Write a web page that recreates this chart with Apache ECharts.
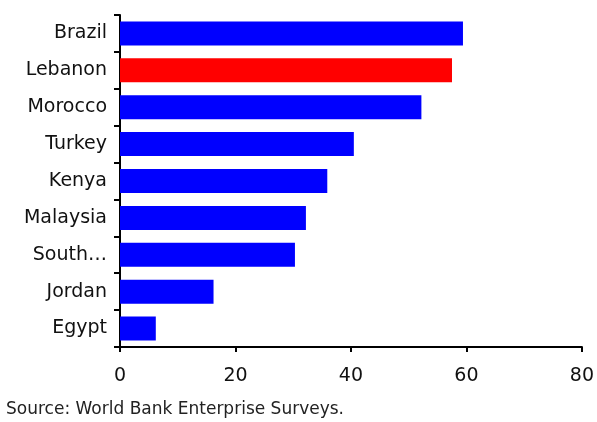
<!DOCTYPE html>
<html>
<head>
<meta charset="utf-8">
<script src="https://cdn.jsdelivr.net/npm/echarts@6/dist/echarts.min.js"></script>
<style>
  html, body { margin: 0; padding: 0; background: #fff; }
  #chart { width: 597px; height: 422px; }
</style>
</head>
<body>
<div id="chart"></div>
<script>
// Countries, listed top to bottom
const categories = ['Brazil', 'Lebanon', 'Morocco', 'Turkey', 'Kenya', 'Malaysia', 'South Africa', 'Jordan', 'Egypt'];
const values = [59.4, 57.5, 52.2, 40.5, 35.9, 32.2, 30.3, 16.2, 6.2];
const highlighted = 'Lebanon';
const xTicks = { min: 0, max: 80, interval: 20 };
const sourceNote = 'Source: World Bank Enterprise Surveys.';

const FONT = '"DejaVu Sans", sans-serif';

const chart = echarts.init(document.getElementById('chart'), null, { renderer: 'canvas' });

// category axis is inverted so the first entry sits on top
const yCats = categories.slice().reverse();
const yVals = values.slice().reverse();

chart.setOption({
  animation: false,
  grid: { left: 120, right: 15, top: 15, bottom: 75, containLabel: false },
  xAxis: {
    type: 'value',
    min: xTicks.min, max: xTicks.max, interval: xTicks.interval,
    axisLine: { show: true, lineStyle: { color: '#000', width: 2 } },
    axisTick: { show: true, length: 5, lineStyle: { color: '#000', width: 2 } },
    axisLabel: { color: '#111', fontSize: 19, fontFamily: FONT, margin: 20 },
    splitLine: { show: false }
  },
  yAxis: {
    type: 'category',
    data: yCats,
    axisLine: { show: true, lineStyle: { color: '#000', width: 2 } },
    axisTick: { show: true, length: 6, lineStyle: { color: '#000', width: 2 } },
    axisLabel: {
      color: '#111', fontSize: 19, fontFamily: FONT, margin: 13,
      formatter: v => v === 'South Africa' ? 'South…' : v
    }
  },
  series: [{
    type: 'bar',
    data: yVals.map((v, i) => ({
      value: v,
      itemStyle: { color: yCats[i] === highlighted ? '#ff0000' : '#0000ff' }
    })),
    barCategoryGap: '35%'
  }],
  graphic: [{
    type: 'text',
    left: 6, top: 401,
    style: { text: sourceNote, fontSize: 17, fontFamily: FONT, fill: '#222' }
  }]
});
</script>
</body>
</html>
